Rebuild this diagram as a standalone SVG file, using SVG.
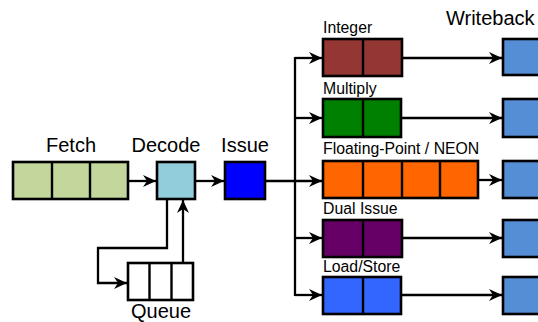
<svg xmlns="http://www.w3.org/2000/svg" width="538" height="322" viewBox="0 0 538 322">
<style>
.box{stroke:#000;stroke-width:2.6}
.div{stroke:#000;stroke-width:2.4}
.big{font-family:"Liberation Sans",Arial,sans-serif;font-size:20px;fill:#000}
.sm{font-family:"Liberation Sans",Arial,sans-serif;font-size:15.8px;fill:#000}
.con{fill:none;stroke:#000;stroke-width:2.3}
</style>
<defs>
<marker id="ah" markerUnits="userSpaceOnUse" markerWidth="14" markerHeight="12" refX="13" refY="6" orient="auto">
<path d="M0,0 L13,6 L0,12 L4,6 z" fill="#000"/>
</marker>
</defs>
<rect width="538" height="322" fill="#fff"/>
<g id="connectors">
<path class="con" d="M128,181 H156" marker-end="url(#ah)"/>
<path class="con" d="M195,181 H224" marker-end="url(#ah)"/>
<path class="con" d="M265,181 H322" marker-end="url(#ah)"/>
<path class="con" d="M295,57 V296"/>
<path class="con" d="M295,58 H322" marker-end="url(#ah)"/>
<path class="con" d="M295,118 H322" marker-end="url(#ah)"/>
<path class="con" d="M295,238 H322" marker-end="url(#ah)"/>
<path class="con" d="M295,295 H322" marker-end="url(#ah)"/>
<path class="con" d="M167,199 V248 H98 V283 H127" marker-end="url(#ah)"/>
<path class="con" d="M183,263 V200" marker-end="url(#ah)"/>
<path class="con" d="M402,58 H502" marker-end="url(#ah)"/>
<path class="con" d="M402,118 H502" marker-end="url(#ah)"/>
<path class="con" d="M478,180 H502" marker-end="url(#ah)"/>
<path class="con" d="M402,238 H502" marker-end="url(#ah)"/>
<path class="con" d="M402,295 H502" marker-end="url(#ah)"/>
</g>
<g id="fetch">
<rect class="box" x="13" y="162" width="115" height="37" fill="#C3D69B"/>
<path class="div" d="M52,162 V199 M90,162 V199"/>
<text class="big" x="71" y="152" text-anchor="middle">Fetch</text>
</g>
<g id="decode">
<rect class="box" x="157" y="162" width="38" height="37" fill="#92CDDC"/>
<text class="big" x="166" y="152" text-anchor="middle">Decode</text>
</g>
<g id="issue">
<rect class="box" x="225" y="162" width="40" height="37" fill="#0000FF"/>
<text class="big" x="245" y="152" text-anchor="middle">Issue</text>
</g>
<g id="queue">
<rect class="box" x="128" y="263" width="65" height="37" fill="#fff"/>
<path class="div" d="M149.5,263 V300 M171.5,263 V300"/>
<text class="big" x="161" y="318" text-anchor="middle">Queue</text>
</g>
<g id="integer">
<rect class="box" x="323" y="39" width="79" height="37" fill="#943634"/>
<path class="div" d="M363,39 V76"/>
<text class="sm" x="323" y="33">Integer</text>
</g>
<g id="multiply">
<rect class="box" x="323" y="99" width="78" height="38" fill="#008000"/>
<path class="div" d="M363,99 V137"/>
<text class="sm" x="323" y="94">Multiply</text>
</g>
<g id="fpneon">
<rect class="box" x="323" y="161" width="155" height="37" fill="#FF6600"/>
<path class="div" d="M363,161 V198 M402,161 V198 M440,161 V198"/>
<text class="sm" x="323" y="154">Floating-Point / NEON</text>
</g>
<g id="dualissue">
<rect class="box" x="323" y="220" width="79" height="37" fill="#660066"/>
<path class="div" d="M363,220 V257"/>
<text class="sm" x="323" y="214">Dual Issue</text>
</g>
<g id="loadstore">
<rect class="box" x="323" y="277" width="78" height="37" fill="#3366FF"/>
<path class="div" d="M363,277 V314"/>
<text class="sm" x="323" y="272">Load/Store</text>
</g>
<g id="writeback">
<text class="big" x="446" y="25">Writeback</text>
<rect class="box" x="503" y="39" width="40" height="36" fill="#558ED5"/>
<rect class="box" x="503" y="99" width="40" height="38" fill="#558ED5"/>
<rect class="box" x="503" y="161" width="40" height="37" fill="#558ED5"/>
<rect class="box" x="503" y="220" width="40" height="37" fill="#558ED5"/>
<rect class="box" x="503" y="277" width="40" height="37" fill="#558ED5"/>
</g>
</svg>
